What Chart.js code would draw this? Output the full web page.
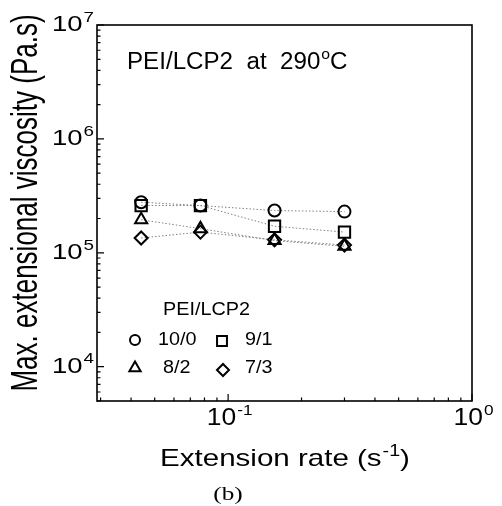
<!DOCTYPE html>
<html>
<head>
<meta charset="utf-8">
<script src="https://cdn.jsdelivr.net/npm/chart.js@4/dist/chart.umd.min.js"></script>
<style>
html,body{margin:0;padding:0;background:#fff;}
canvas{display:block;}
</style>
</head>
<body>
<canvas id="c" width="502" height="506"></canvas>
<script>
// data
const rates = [0.044, 0.077, 0.155, 0.30];
const blendNames = ['10/0', '9/1', '8/2', '7/3'];
const visc100 = [2.78e5, 2.6e5, 2.35e5, 2.3e5];
const visc91 = [2.6e5, 2.6e5, 1.71e5, 1.52e5];
const visc82 = [1.95e5, 1.63e5, 1.28e5, 1.14e5];
const visc73 = [1.35e5, 1.52e5, 1.30e5, 1.17e5];
const xTicks = [0.1, 1];
const yTicks = [1e4, 1e5, 1e6, 1e7];
const xRange = [0.029, 1];
const yRange = [5000, 1e7];

const SANS = '"Liberation Sans", Arial, sans-serif';
const SERIF = '"Liberation Serif", "Times New Roman", serif';

function pts(vals){
  return rates.map((r, i) => ({x: r, y: vals[i]}));
}

function stext(ctx, s, x, y, size, sx, align, family){
  ctx.save();
  ctx.font = size + 'px ' + (family || SANS);
  let w = ctx.measureText(s).width * sx;
  let x0 = align === 'center' ? x - w / 2 : align === 'right' ? x - w : x;
  ctx.translate(x0, y);
  ctx.scale(sx, 1);
  ctx.textAlign = 'left';
  ctx.textBaseline = 'alphabetic';
  ctx.fillText(s, 0, 0);
  ctx.restore();
  return w;
}

function measure(ctx, s, size, sx, family){
  ctx.save();
  ctx.font = size + 'px ' + (family || SANS);
  let w = ctx.measureText(s).width * sx;
  ctx.restore();
  return w;
}

// text with one superscript part in the middle: pre + sup + post
function supText(ctx, pre, sup, post, x, y, size, sx, align){
  let ss = Math.round(size * 0.66);
  let w1 = measure(ctx, pre, size, sx), w2 = measure(ctx, sup, ss, sx), w3 = measure(ctx, post, size, sx);
  let tot = w1 + w2 + w3;
  let x0 = align === 'center' ? x - tot / 2 : align === 'right' ? x - tot : x;
  stext(ctx, pre, x0, y, size, sx, 'left');
  stext(ctx, sup, x0 + w1 + 1, y - size * 0.42, ss, sx, 'left');
  if(post) stext(ctx, post, x0 + w1 + w2 + 1, y, size, sx, 'left');
}

const frame = {
  id: 'frame',
  afterDraw(chart){
    let ctx = chart.ctx;
    let a = chart.chartArea;
    let xs = chart.scales.x, ys = chart.scales.y;
    ctx.save();
    ctx.fillStyle = '#000';
    ctx.strokeStyle = '#000';

    // box
    ctx.lineWidth = 1.6;
    ctx.strokeRect(a.left, a.top, a.right - a.left, a.bottom - a.top);

    // ticks, inward, left and bottom only
    ctx.lineWidth = 1.2;
    ctx.beginPath();
    for(let e = -3; e <= 1; e++){
      for(let m = 1; m <= 9; m++){
        let v = m * Math.pow(10, e);
        if(v < xRange[0] || v > xRange[1]) continue;
        let px = xs.getPixelForValue(v);
        let len = m === 1 ? 7 : 3.5;
        ctx.moveTo(px, a.bottom);
        ctx.lineTo(px, a.bottom - len);
      }
    }
    for(let e = 3; e <= 7; e++){
      for(let m = 1; m <= 9; m++){
        let v = m * Math.pow(10, e);
        if(v < yRange[0] || v > yRange[1]) continue;
        let py = ys.getPixelForValue(v);
        let len = m === 1 ? 7 : 3.5;
        ctx.moveTo(a.left, py);
        ctx.lineTo(a.left + len, py);
      }
    }
    ctx.stroke();

    // tick labels
    xTicks.forEach(v => {
      let px = xs.getPixelForValue(v);
      supText(ctx, '10', String(Math.round(Math.log10(v))), '', px + 1, 425, 23, 1.15, 'center');
    });
    yTicks.forEach(v => {
      let py = ys.getPixelForValue(v);
      supText(ctx, '10', String(Math.round(Math.log10(v))), '', 93, py + 6, 22, 1.25, 'right');
    });

    // axis titles
    let cx = (a.left + a.right) / 2;
    supText(ctx, 'Extension rate (s', '-1', ')', cx, 466, 24, 1.23, 'center');
    ctx.save();
    ctx.translate(37, 203);
    ctx.rotate(-Math.PI / 2);
    ctx.scale(1, 1.45);
    ctx.font = '26px ' + SANS;
    ctx.textAlign = 'center';
    ctx.textBaseline = 'alphabetic';
    ctx.fillText('Max. extensional viscosity (Pa.s)', 0, 0);
    ctx.restore();

    // title inside the plot
    supText(ctx, 'PEI/LCP2  at  290', 'o', 'C', 127, 69, 23, 1.05, 'left');

    // legend
    stext(ctx, 'PEI/LCP2', 163, 315, 18, 1.1, 'left');
    let ds = chart.data.datasets;
    let slots = [[135, 340, 158, 345], [222, 341, 245, 345], [135, 368, 163, 373], [223, 370, 245, 373]];
    ds.forEach((d, i) => {
      let s = slots[i];
      ctx.lineWidth = 2;
      ctx.strokeStyle = '#000';
      ctx.fillStyle = 'rgba(0,0,0,0)';
      Chart.helpers.drawPoint(ctx, {pointStyle: d.pointStyle, radius: d.legendRadius, borderWidth: 2}, s[0], s[1]);
      ctx.fillStyle = '#000';
      stext(ctx, blendNames[i], s[2], s[3], 18, 1.1, 'left');
    });

    // panel label
    stext(ctx, '(b)', 228, 500, 18, 1.4, 'center', SERIF);
    ctx.restore();
  }
};

const common = {
  showLine: true,
  borderColor: '#808080',
  borderWidth: 1,
  borderDash: [1.5, 2],
  pointBorderColor: '#000',
  pointBackgroundColor: 'rgba(0,0,0,0)',
  pointBorderWidth: 2,
  tension: 0
};

new Chart(document.getElementById('c'), {
  type: 'scatter',
  data: {
    datasets: [
      Object.assign({label: blendNames[0], data: pts(visc100), pointStyle: 'circle', pointRadius: 6, legendRadius: 5}, common),
      Object.assign({label: blendNames[1], data: pts(visc91), pointStyle: 'rect', pointRadius: 8, legendRadius: 7}, common),
      Object.assign({label: blendNames[2], data: pts(visc82), pointStyle: 'triangle', pointRadius: 7, legendRadius: 6.5}, common),
      Object.assign({label: blendNames[3], data: pts(visc73), pointStyle: 'rectRot', pointRadius: 6.5, legendRadius: 6}, common)
    ]
  },
  options: {
    responsive: false,
    animation: false,
    events: [],
    layout: {padding: {left: 97, top: 25, right: 30, bottom: 105}},
    scales: {
      x: {type: 'logarithmic', display: false, min: xRange[0], max: xRange[1]},
      y: {type: 'logarithmic', display: false, min: yRange[0], max: yRange[1]}
    },
    plugins: {legend: {display: false}, tooltip: {enabled: false}}
  },
  plugins: [frame]
});
</script>
</body>
</html>
